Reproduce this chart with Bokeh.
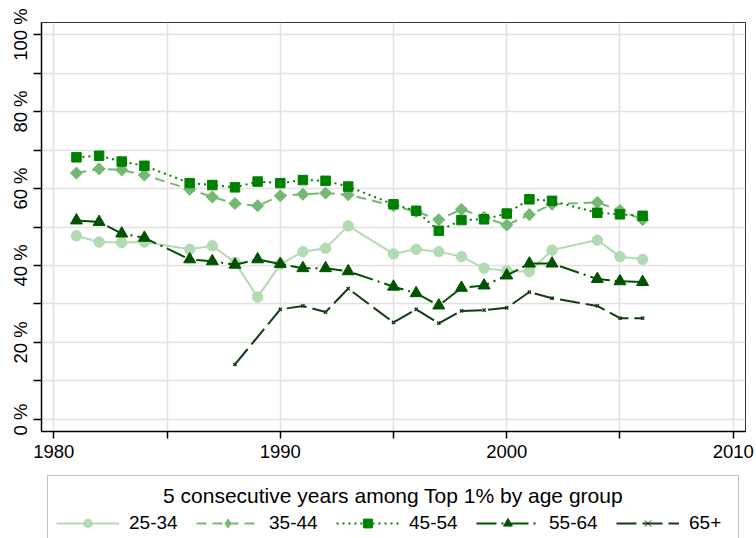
import numpy as np
from bokeh.plotting import figure
from bokeh.models import FixedTicker, Range1d, Legend, LegendItem, Label, BoxAnnotation
from bokeh.layouts import column
from bokeh.embed import file_html
from bokeh.resources import INLINE

# ---------------- data ----------------
years = [1981, 1982, 1983, 1984, 1986, 1987, 1988, 1989, 1990, 1991, 1992, 1993,
         1995, 1996, 1997, 1998, 1999, 2000, 2001, 2002, 2004, 2005, 2006]
age_25_34 = [47.7, 46.1, 46.0, 46.1, 44.2, 45.1, 40.8, 31.8, 40.3, 43.6, 44.5, 50.3,
             43.0, 44.2, 43.6, 42.3, 39.3, 38.6, 38.4, 44.0, 46.6, 42.3, 41.6]
age_35_44 = [64.0, 65.1, 64.8, 63.5, 59.8, 57.8, 56.1, 55.5, 58.1, 58.5, 58.8, 58.4,
             55.5, 54.0, 51.9, 54.6, 52.5, 50.5, 53.2, 55.9, 56.4, 54.3, 51.9]
age_45_54 = [68.1, 68.5, 67.0, 65.9, 61.4, 60.9, 60.3, 61.8, 61.4, 62.2, 62.0, 60.5,
             55.9, 54.2, 49.0, 51.8, 52.0, 53.5, 57.2, 56.8, 53.7, 53.3, 52.9]
age_55_64 = [51.7, 51.3, 48.3, 47.2, 41.6, 41.1, 40.2, 41.6, 40.4, 39.3, 39.3, 38.5,
             34.5, 32.8, 29.6, 34.2, 34.8, 37.4, 40.5, 40.5, 36.5, 35.9, 35.7]
years_65 = [1988, 1990, 1991, 1992, 1993, 1995, 1996, 1997, 1998, 1999, 2000, 2001,
            2002, 2004, 2005, 2006]
age_65_plus = [14.3, 28.6, 29.5, 27.9, 34.0, 25.2, 28.6, 25.0, 28.2, 28.4, 29.0, 33.1,
               31.5, 29.5, 26.3, 26.3]

series_names = ["25-34", "35-44", "45-54", "55-64", "65+"]
legend_title = "5 consecutive years among Top 1% by age group"

x_ticks = [1980, 1990, 2000, 2010]
x_minor = [1985, 1995, 2005]
y_ticks = [0, 20, 40, 60, 80, 100]
y_minor = [10, 30, 50, 70, 90]
y_tick_labels = ["0 %", "20 %", "40 %", "60 %", "80 %", "100 %"]

# ---------------- styles ----------------
FONT = "Liberation Sans"
colors = ["#b3dbb3", "#74b874", "#008000", "#005200", "#143c14"]
dashes = ["solid", "10 6", "2 4", "20 5 2 5", "20 6"]
markers = ["circle", "square", "square", "triangle", "x"]
legend_markers = ["circle", "diamond", "square", "triangle", "x"]
msizes = [10.5, 8.5, 9.5, 12, 4.5]
angles = [0, np.pi / 4, 0, 0, 0]

xs_list = [years, years, years, years, years_65]
ys_list = [age_25_34, age_35_44, age_45_54, age_55_64, age_65_plus]

p = figure(frame_width=704, frame_height=409,
           min_border_left=41, min_border_right=11, min_border_top=22, min_border_bottom=34,
           x_range=Range1d(1979.457, 2010.543), y_range=Range1d(-3.12, 103.12),
           output_backend="svg", toolbar_location=None)
p.background_fill_color = "white"
p.border_fill_color = "white"
p.outline_line_color = "#333333"
p.outline_line_width = 1

p.xaxis.ticker = FixedTicker(ticks=x_ticks, minor_ticks=x_minor)
p.yaxis.ticker = FixedTicker(ticks=y_ticks, minor_ticks=y_minor)
p.yaxis.major_label_overrides = {t: l for t, l in zip(y_ticks, y_tick_labels)}
p.yaxis.major_label_orientation = "vertical"

for ax in (p.xaxis, p.yaxis):
    ax.axis_line_color = "black"
    ax.axis_line_width = 1.5
    ax.major_tick_line_color = "black"
    ax.minor_tick_line_color = "black"
    ax.major_tick_line_width = 1.5
    ax.minor_tick_line_width = 1.5
    ax.major_tick_in = 0
    ax.minor_tick_in = 0
    ax.major_label_text_font = FONT
    ax.major_label_text_font_size = "18.5px"
    ax.major_label_text_color = "black"
p.xaxis.major_tick_out = 7
p.xaxis.minor_tick_out = 7
p.xaxis.major_label_standoff = 6
p.yaxis.major_tick_out = 8
p.yaxis.minor_tick_out = 8
p.yaxis.major_label_standoff = 2

for g in (p.xgrid, p.ygrid):
    g.grid_line_color = "#e1e1e1"
    g.grid_line_width = 1.5
    g.minor_grid_line_color = "#e1e1e1"
    g.minor_grid_line_width = 1.5

for xs, ys, c, d, m, s, a in zip(xs_list, ys_list, colors, dashes, markers, msizes, angles):
    p.line(xs, ys, line_color=c, line_width=2, line_dash=d)
    p.scatter(xs, ys, marker=m, size=s, angle=a, fill_color=c, line_color=c,
              line_width=1.5 if m == "x" else 1)

# ---------------- legend panel (same frame width as the plot, so the column aligns) ----------------
p2 = figure(frame_width=704, frame_height=73,
            min_border_left=41, min_border_right=11, min_border_top=0, min_border_bottom=0,
            x_range=Range1d(0, 704), y_range=Range1d(0, 73),
            output_backend="svg", toolbar_location=None)
p2.axis.visible = False
p2.grid.visible = False
p2.outline_line_color = None
p2.background_fill_color = "white"
p2.border_fill_color = "white"

# legend frame box (pixel units of this panel)
p2.add_layout(BoxAnnotation(left=6, right=697, bottom=-3, top=63,
                            fill_alpha=0, line_color="#333333", line_width=1))

items = []
for name, xs, ys, c, d, m in zip(series_names, xs_list, ys_list, colors, dashes, legend_markers):
    # hidden one-point copies of each series, used only for the legend samples
    lr = p2.line(x=xs[:1], y=ys[:1], line_color=c, line_width=2, line_dash=d, visible=False)
    sr = p2.scatter(x=xs[:1], y=ys[:1], marker=m, fill_color=c, line_color=c,
                    visible=False)
    items.append(LegendItem(label=name, renderers=[lr, sr]))

legend = Legend(items=items, orientation="horizontal", location=(15, 4),
                glyph_width=63, glyph_height=22, label_height=22, label_width=58,
                label_standoff=10, spacing=9, padding=0, margin=0,
                border_line_alpha=0, background_fill_alpha=0,
                label_text_font=FONT, label_text_font_size="19px",
                label_text_color="black")
p2.add_layout(legend)

p2.add_layout(Label(x=351.5, y=43, text=legend_title, text_align="center",
                    text_baseline="alphabetic", text_font=FONT,
                    text_font_size="21px", text_color="black"))

layout = column(p, p2)
open("out.html", "w").write(file_html(layout, INLINE))
